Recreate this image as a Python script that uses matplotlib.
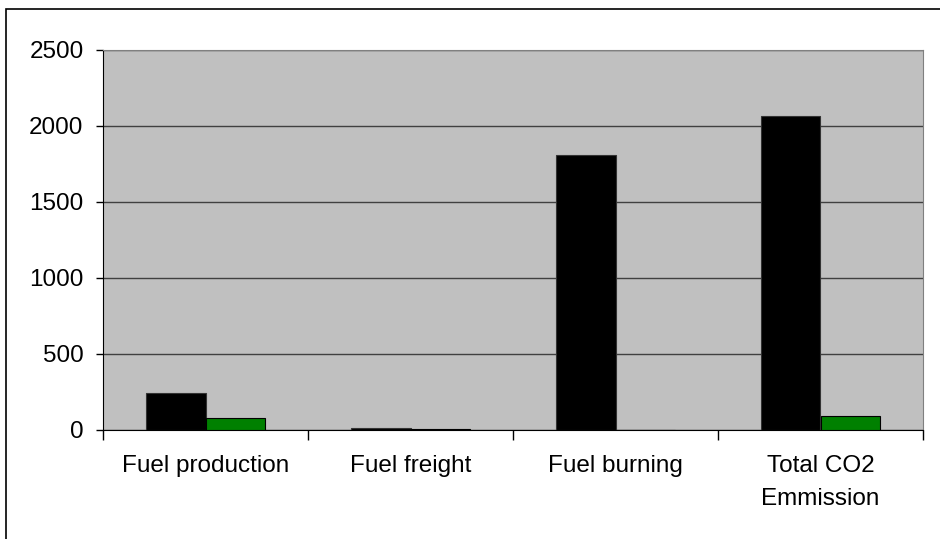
import numpy as np
import matplotlib.pyplot as plt
from matplotlib.patches import Rectangle

plt.rcParams['font.family'] = ['Liberation Sans', 'DejaVu Sans']

categories = ['Fuel production', 'Fuel freight', 'Fuel burning', 'Total CO2\nEmmission']
black_vals = [245, 16, 1810, 2066]
green_vals = [76, 5, 0, 92]

fig = plt.figure(figsize=(9.4, 5.39), dpi=100)
# outer chart frame (runs off the bottom and right edge)
fig.patches.append(Rectangle((5.5/940, -10/539), 950/940, 540/539, transform=fig.transFigure,
                             fill=False, edgecolor='black', linewidth=1.2))

ax = fig.add_axes([103/940, 109/539, 820/940, 380/539])
ax.set_facecolor('#c0c0c0')

x = np.arange(len(categories))
w = 0.288
ax.bar(x - w/2, black_vals, w, color='black', edgecolor='#333333', linewidth=0.8, zorder=3)
ax.bar(x + w/2, green_vals, w, color='#008000', edgecolor='black', linewidth=0.8, zorder=3)

ax.set_xlim(-0.5, len(categories) - 0.5)
ax.set_ylim(0, 2500)
ax.set_yticks(range(0, 2501, 500))
ax.yaxis.grid(True, color='#404040', linewidth=1)
ax.set_axisbelow(True)

ax.set_xticks(x)
ax.set_xticklabels(categories, fontsize=17.5, linespacing=1.65)
ax.set_xticks(np.arange(-0.5, len(categories)), minor=True)
ax.tick_params(axis='x', which='major', length=0, pad=18)
ax.tick_params(axis='x', which='minor', length=7, width=1, color='black')
ax.tick_params(axis='y', length=5, width=1, labelsize=17.5, pad=9)

for s in ['top', 'right']:
    ax.spines[s].set_color('#808080')
ax.spines['left'].set_color('black')
ax.spines['bottom'].set_color('black')

fig.savefig('out.png', dpi=100)
